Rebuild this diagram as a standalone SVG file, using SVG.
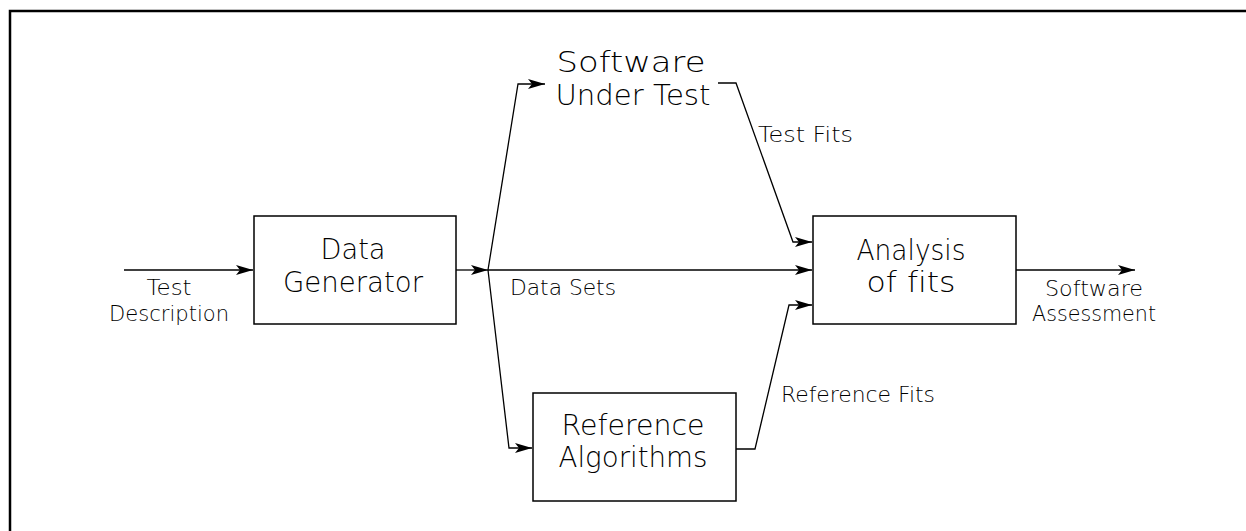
<svg xmlns="http://www.w3.org/2000/svg" width="1246" height="531" viewBox="0 0 1246 531">
  <defs>
    <marker id="arr" markerUnits="userSpaceOnUse" markerWidth="18" markerHeight="11" refX="17" refY="5" orient="auto" overflow="visible">
      <path d="M0,0 L17,5 L0,10 L4,5 z" fill="#000"/>
    </marker>
    <style>
      .frame { fill: none; stroke: #000; stroke-width: 2.5; }
      .box { fill: #fff; stroke: #000; stroke-width: 1.5; }
      .conn { fill: none; stroke: #000; stroke-width: 1.3; marker-end: url(#arr); }
      .big { font-family: "DejaVu Sans", "Liberation Sans", sans-serif; font-weight: 200; font-size: 29px; fill: #000; text-anchor: middle; font-variant-ligatures: none; }
      .small { font-family: "DejaVu Sans", "Liberation Sans", sans-serif; font-weight: 200; font-size: 22px; fill: #000; font-variant-ligatures: none; }
      .mid { text-anchor: middle; }
    </style>
  </defs>
  <rect width="1246" height="531" fill="#fff"/>
  <path class="frame" d="M10,531 V11 H1246"/>

  <g id="connectors">
    <path class="conn" d="M124,270 H253"/>
    <path class="conn" d="M456,270 H488"/>
    <path class="conn" d="M488,270 L518,84 H545"/>
    <path class="conn" d="M488,270 H812"/>
    <path class="conn" d="M488,270 L509,448 H532"/>
    <path class="conn" d="M718,83 H736 L793,242 H812"/>
    <path class="conn" d="M736,449 H755 L789,305 H812"/>
    <path class="conn" d="M1016,270 H1135"/>
    <text class="small mid" x="169" y="295" textLength="45" lengthAdjust="spacingAndGlyphs">Test</text>
    <text class="small mid" x="169" y="321" textLength="120" lengthAdjust="spacingAndGlyphs">Description</text>
    <text class="small" x="510" y="295" textLength="106" lengthAdjust="spacingAndGlyphs">Data Sets</text>
    <text class="small" x="758" y="142" textLength="95" lengthAdjust="spacingAndGlyphs">Test Fits</text>
    <text class="small" x="781" y="402" textLength="154" lengthAdjust="spacingAndGlyphs">Reference Fits</text>
    <text class="small mid" x="1094" y="296" textLength="98" lengthAdjust="spacingAndGlyphs">Software</text>
    <text class="small mid" x="1094" y="321" textLength="124" lengthAdjust="spacingAndGlyphs">Assessment</text>
  </g>

  <g id="data-generator">
    <rect class="box" x="254" y="216" width="202" height="108"/>
    <text class="big" x="353" y="259" textLength="65" lengthAdjust="spacingAndGlyphs">Data</text>
    <text class="big" x="353" y="292" textLength="140" lengthAdjust="spacingAndGlyphs">Generator</text>
  </g>

  <g id="software-under-test">
    <text class="big" x="631" y="72" textLength="149" lengthAdjust="spacingAndGlyphs">Software</text>
    <text class="big" x="633" y="105" textLength="155" lengthAdjust="spacingAndGlyphs">Under Test</text>
  </g>

  <g id="analysis-of-fits">
    <rect class="box" x="813" y="216" width="203" height="108"/>
    <text class="big" x="911" y="260" textLength="109" lengthAdjust="spacingAndGlyphs">Analysis</text>
    <text class="big" x="911" y="292" textLength="89" lengthAdjust="spacingAndGlyphs">of fits</text>
  </g>

  <g id="reference-algorithms">
    <rect class="box" x="533" y="393" width="203" height="108"/>
    <text class="big" x="633" y="435" textLength="143" lengthAdjust="spacingAndGlyphs">Reference</text>
    <text class="big" x="633" y="467" textLength="149" lengthAdjust="spacingAndGlyphs">Algorithms</text>
  </g>
</svg>
